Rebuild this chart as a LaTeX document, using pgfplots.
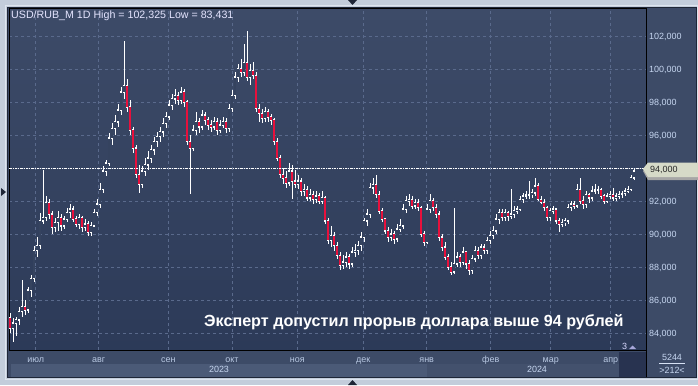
\documentclass[border=0pt]{standalone}
\usepackage{fontspec}
\setmainfont{Liberation Sans}
\usepackage{pgfplots}
\pgfplotsset{compat=1.18}
\usepackage{pgfplotstable}
\definecolor{framec}{HTML}{C3CDDB}
\definecolor{framelight}{HTML}{DDE4EE}
\definecolor{paneldark}{HTML}{1E2637}
\definecolor{panelbg}{HTML}{3D4B67}
\definecolor{plottop}{HTML}{3D4B68}
\definecolor{plotbot}{HTML}{2C3A58}
\definecolor{plotmid}{HTML}{35435F}
\definecolor{gridc}{HTML}{5A6A8C}
\definecolor{labc}{HTML}{C6D6F0}
\definecolor{monc}{HTML}{B8C8E2}
\definecolor{yearA}{HTML}{4B5A77}
\definecolor{yearB}{HTML}{43516D}
\definecolor{darkrect}{HTML}{283350}
\definecolor{tagc}{HTML}{D6DAC8}
\definecolor{candlered}{HTML}{E8103C}
\pgfplotstableread{
x o h l c
10 84.9 85.2 84.0 84.3
13 84.3 84.9 83.431 84.6
16 84.6 85.0 83.8 84.8
19 84.8 85.6 84.5 85.3
22 85.3 87.2 85.0 85.6
25 85.6 86.0 85.1 85.4
28 85.4 86.8 85.2 86.6
31 86.6 87.5 86.2 87.3
34 87.3 89.3 87.1 89.0
37 89.0 89.8 88.6 89.3
40 89.3 91.3 89.1 90.8
43 90.8 93.9 90.6 91.0
46 91.0 92.3 90.8 91.9
49 91.9 92.1 90.9 91.2
52 91.2 91.4 90.0 90.4
55 90.4 91.0 90.1 90.7
58 90.7 91.4 90.2 91.0
61 91.0 91.2 90.2 90.5
64 90.5 91.1 90.3 90.9
67 90.9 91.6 90.7 91.3
70 91.3 91.8 91.0 91.5
73 91.5 91.7 90.7 90.9
76 90.9 91.1 90.4 90.6
79 90.6 91.2 90.3 91.0
82 91.0 91.1 90.1 90.4
85 90.4 90.9 90.2 90.6
88 90.6 90.8 89.9 90.1
91 90.1 90.7 89.9 90.5
94 90.5 91.5 90.4 91.3
97 91.3 92.1 91.1 91.8
100 91.8 93.1 91.6 92.7
103 92.7 94.1 92.5 93.8
106 93.8 94.5 93.5 94.3
109 94.3 96.1 94.1 95.8
112 95.8 96.7 95.4 96.4
115 96.4 97.2 96.0 96.8
118 96.8 97.9 96.5 97.5
121 97.5 98.9 97.2 98.6
124 98.6 101.7 98.2 99.0
127 99.0 99.4 97.4 97.7
130 97.7 98.1 96.0 96.3
133 96.3 96.5 94.9 95.2
136 95.2 95.4 93.4 93.6
139 93.6 94.2 92.5 93.0
142 93.0 94.1 92.8 93.8
145 93.8 94.6 93.5 94.2
148 94.2 95.0 93.9 94.6
151 94.6 95.4 94.3 95.1
154 95.1 95.9 94.8 95.6
157 95.6 96.2 95.3 95.9
160 95.9 96.5 95.6 96.2
163 96.2 97.0 95.9 96.7
166 96.7 97.4 96.4 97.1
169 97.1 98.1 96.9 97.8
172 97.8 98.5 97.5 98.2
175 98.2 98.8 97.9 98.4
178 98.4 98.6 97.8 98.1
181 98.1 98.9 97.9 98.6
184 98.6 98.8 97.7 98.0
187 98.0 98.1 95.4 95.6
190 95.6 96.0 92.4 95.2
193 95.2 96.6 95.0 96.3
196 96.3 97.4 96.0 96.8
199 96.8 97.0 96.1 96.5
202 96.5 97.5 96.3 97.2
205 97.2 97.4 96.6 96.9
208 96.9 97.1 96.3 96.6
211 96.6 96.9 96.2 96.5
214 96.5 97.1 96.3 96.8
217 96.8 97.0 96.0 96.3
220 96.3 96.9 96.1 96.6
223 96.6 97.1 96.4 96.8
226 96.8 97.0 96.1 96.4
229 96.4 97.9 96.2 97.6
232 97.6 98.7 97.4 98.4
235 98.4 99.8 98.2 99.5
238 99.5 100.3 99.2 100.0
241 100.0 100.6 99.5 99.8
244 99.8 101.5 99.6 100.4
247 100.4 102.325 99.3 99.5
250 99.5 100.3 99.0 99.9
253 99.9 100.4 99.4 99.6
256 99.6 99.8 97.4 97.6
259 97.6 97.9 96.8 97.3
262 97.3 97.6 96.7 97.0
265 97.0 97.7 96.8 97.4
268 97.4 97.6 96.8 97.1
271 97.1 97.3 96.6 96.9
274 96.9 97.0 95.4 95.6
277 95.6 95.8 94.4 94.6
280 94.6 94.8 93.4 93.6
283 93.6 94.0 93.0 93.4
286 93.4 93.8 92.8 93.1
289 93.1 94.3 92.9 93.8
292 93.8 94.2 92.1 93.2
295 93.2 93.9 92.8 93.0
298 93.0 93.6 92.7 93.2
301 93.2 93.4 92.3 92.6
304 92.6 93.0 92.3 92.7
307 92.7 92.9 92.0 92.2
310 92.2 92.7 92.0 92.4
313 92.4 92.6 91.8 92.1
316 92.1 92.6 91.9 92.3
319 92.3 92.5 91.8 92.0
322 92.0 92.6 91.8 92.2
325 92.2 92.3 90.6 90.8
328 90.8 91.0 89.4 89.6
331 89.6 90.5 89.2 89.9
334 89.9 90.1 89.0 89.3
337 89.3 89.5 88.5 88.7
340 88.7 88.9 87.8 88.1
343 88.1 88.7 87.9 88.3
346 88.3 88.9 88.0 88.6
349 88.6 88.8 87.9 88.2
352 88.2 89.2 88.0 88.9
355 88.9 89.4 88.6 89.0
358 89.0 89.6 88.7 89.3
361 89.3 90.1 89.0 89.8
364 89.8 91.0 89.5 90.8
367 90.8 91.5 90.5 91.2
370 91.2 93.1 91.0 92.8
373 92.8 93.4 92.4 93.0
376 93.0 93.6 92.2 92.4
379 92.4 92.6 91.2 91.4
382 91.4 91.6 90.7 90.9
385 90.9 91.0 90.0 90.2
388 90.2 90.4 89.5 89.8
391 89.8 90.3 89.6 90.0
394 90.0 90.2 89.4 89.7
397 89.7 90.6 89.5 90.3
400 90.3 90.9 90.1 90.5
403 90.5 91.8 90.3 91.5
406 91.5 92.3 91.3 92.0
409 92.0 92.4 91.7 92.1
412 92.1 92.3 91.5 91.7
415 91.7 92.1 91.5 91.9
418 91.9 92.1 91.4 91.6
421 91.6 91.7 89.8 90.0
424 90.0 90.2 89.3 89.5
427 89.5 91.8 89.4 91.5
430 91.5 92.4 91.3 92.0
433 92.0 92.2 91.4 91.6
436 91.6 91.8 91.0 91.2
439 91.2 91.4 89.6 89.8
442 89.8 90.0 89.0 89.2
445 89.2 89.5 88.4 88.6
448 88.6 88.8 87.8 88.0
451 88.0 88.3 87.5 87.7
454 87.7 91.6 87.6 88.2
457 88.2 88.9 88.0 88.6
460 88.6 88.8 88.0 88.3
463 88.3 89.2 88.1 88.9
466 88.9 89.0 87.9 88.2
469 88.2 88.4 87.5 87.8
472 87.8 88.7 87.6 88.5
475 88.5 89.3 88.3 89.0
478 89.0 89.2 88.5 88.7
481 88.7 89.4 88.5 89.2
484 89.2 89.4 88.8 89.0
487 89.0 89.8 88.8 89.6
490 89.6 90.2 89.4 89.9
493 89.9 90.5 89.7 90.2
496 90.2 91.2 90.0 90.9
499 90.9 91.5 90.6 91.3
502 91.3 91.5 90.8 91.0
505 91.0 91.5 90.8 91.3
508 91.3 91.4 90.8 91.1
511 91.1 92.7 90.9 91.2
514 91.2 91.7 91.0 91.4
517 91.4 91.7 91.2 91.5
520 91.5 92.3 91.4 92.1
523 92.1 92.5 91.9 92.3
526 92.3 92.6 92.1 92.35
529 92.35 93.2 92.1 92.4
532 92.4 92.7 92.2 92.5
535 92.5 93.4 92.3 92.9
538 92.9 93.1 92.0 92.1
541 92.1 92.3 91.8 91.9
544 91.9 92.1 91.4 91.6
547 91.6 91.7 90.8 91.0
550 91.0 91.6 90.8 91.4
553 91.4 91.7 91.2 91.5
556 91.5 91.6 90.6 90.8
559 90.8 91.0 90.1 90.6
562 90.6 90.9 90.4 90.7
565 90.7 91.0 90.5 90.8
568 90.8 91.8 90.6 91.6
571 91.6 92.0 91.4 91.8
574 91.8 92.0 91.5 91.7
577 91.7 93.0 91.6 92.7
580 92.7 93.4 91.8 92.0
583 92.0 92.3 91.5 91.8
586 91.8 92.6 91.6 92.4
589 92.4 92.5 91.9 92.2
592 92.2 92.9 92.0 92.6
595 92.6 93.0 92.4 92.65
598 92.65 92.9 92.4 92.7
601 92.7 92.8 92.1 92.3
604 92.3 92.4 91.8 92.0
607 92.0 92.5 91.9 92.3
610 92.3 92.6 92.1 92.4
613 92.4 92.8 92.0 92.2
616 92.2 92.5 92.0 92.3
619 92.3 92.6 92.1 92.4
622 92.4 92.6 92.2 92.45
625 92.45 92.8 92.3 92.6
628 92.6 92.9 92.5 92.7
631 92.7 93.6 92.6 93.4
634 93.4 94.0 93.3 93.8
}\candles
\begin{document}
\begin{tikzpicture}[x=1bp,y=1bp]
\useasboundingbox (0,0) rectangle (698,385);
% outer frame
\fill[framec] (0,0) rectangle (698,385);
\draw[framelight, line width=1bp] (5.5,5.5) rectangle (697.5,379.5);
\fill[paneldark] (7,7) rectangle (697,378);
\fill[panelbg] (8,8) rectangle (696,377);
% year row
\fill[yearA] (11,8) rectangle (427,21);
\fill[yearB] (427,8) rectangle (619,21);
\fill[darkrect] (619,8) rectangle (646,33);
% arrows on the frame
\fill[paneldark] (348,385) -- (357,385) -- (352.5,380) -- cycle;
\fill[paneldark] (348,0) -- (357,0) -- (352.5,5) -- cycle;
\fill[paneldark] (1,189) -- (1,197) -- (6,193) -- cycle;
\begin{axis}[
  at={(9bp,35bp)}, anchor=south west, scale only axis,
  width=637bp, height=341bp,
  xmin=9, xmax=646, ymin=82.97, ymax=103.636,
  axis background/.style={top color=plottop, bottom color=plotbot},
  axis line style={black, line width=1bp},
  xtick={35.7,98.7,168.3,232,297.3,363.3,426.7,490.7,550.7,610.7},
  xticklabels={июл,авг,сен,окт,ноя,дек,янв,фев,мар,апр},
  ytick={84,86,88,90,92,94,96,98,100,102},
  yticklabels={{84,000},{86,000},{88,000},{90,000},{92,000},{},{96,000},{98,000},{100,000},{102,000}},
  yticklabel pos=right,
  major tick length=0pt,
  grid=major,
  major grid style={draw=gridc, line width=0.6bp, dash pattern=on 3bp off 3bp},
  tick label style={font=\fontsize{9}{10}\selectfont, inner sep=0pt},
  xticklabel style={anchor=base, yshift=-12bp, text=monc},
  yticklabel style={anchor=base west, xshift=3bp, yshift=-3.2bp, text=labc},
  clip=true,
]
% wicks
\addplot[draw=none, mark=none, forget plot,
  error bars/.cd, y dir=both, y explicit, error mark=none,
  error bar style={draw=white, line width=0.9bp}]
  table[x=x, y=o, y error plus expr={\thisrow{h}-\thisrow{o}}, y error minus expr={\thisrow{o}-\thisrow{l}}] {\candles};
% bodies (white outline)
\addplot[draw=none, mark=none, forget plot,
  error bars/.cd, y dir=both, y explicit, error mark=none,
  error bar style={draw=white, line width=2.7bp}]
  table[x=x, y expr={(\thisrow{o}+\thisrow{c})/2}, y error expr={abs(\thisrow{o}-\thisrow{c})/2+0.05}] {\candles};
% falling candles: red inside
\addplot[draw=none, mark=none, forget plot,
  error bars/.cd, y dir=both, y explicit, error mark=none,
  error bar style={draw=candlered, line width=1.2bp}]
  table[x=x, y expr={(\thisrow{o}+\thisrow{c})/2}, y error expr={max((\thisrow{o}-\thisrow{c})/2-0.02,0)}] {\candles};
% rising candles: hollow
\addplot[draw=none, mark=none, forget plot,
  error bars/.cd, y dir=both, y explicit, error mark=none,
  error bar style={draw=plotmid, line width=1.1bp}]
  table[x=x, y expr={(\thisrow{o}+\thisrow{c})/2}, y error expr={max((\thisrow{c}-\thisrow{o})/2-0.03,0)}] {\candles};
\draw[white, line width=0.8bp, dash pattern=on 2.5bp off 1bp on 1bp off 1bp] (axis cs:9,94) -- (axis cs:646,94);
\end{axis}
% price tag at 94
\fill[gray!70] (643,214) -- (648,221) -- (698,221) -- (698,205) -- (648,205) -- cycle;
\fill[tagc] (643,216) -- (648,222.5) -- (698,222.5) -- (698,208) -- (648,208) -- cycle;
\node[anchor=base west, inner sep=0pt, font=\fontsize{9}{10}\selectfont, text=black!85] at (650,212.2) {94,000};
% title
\node[anchor=base west, inner sep=0pt, font=\fontsize{10.7}{12}\selectfont, text=white!90!blue] at (11,366.7) {USD/RUB\_M 1D High = 102,325 Low = 83,431};
% caption
\node[anchor=base west, inner sep=0pt, font=\bfseries\fontsize{16.2}{18}\selectfont, text=white] at (204,59) {Эксперт допустил прорыв доллара выше 94 рублей};
% years
\node[anchor=base, inner sep=0pt, font=\fontsize{9}{10}\selectfont, text=labc] at (219,12.3) {2023};
\node[anchor=base, inner sep=0pt, font=\fontsize{9}{10}\selectfont, text=labc] at (537,12.3) {2024};
% small marker
\node[anchor=base, inner sep=0pt, font=\fontsize{9}{10}\selectfont, text=white!85!blue] at (624.5,36) {3};
\fill[gray!60!blue!50] (629,36) -- (636,36) -- (632.5,39.5) -- cycle;
% bottom right box
\draw[black, line width=1bp] (646,8) -- (646,34);
\node[anchor=base, inner sep=0pt, font=\fontsize{9}{10}\selectfont, text=labc] at (672,25) {5244};
\draw[labc!70, line width=0.8bp] (659,21.7) -- (685,21.7);
\node[anchor=base, inner sep=0pt, font=\fontsize{9}{10}\selectfont, text=labc] at (672,11.7) {>212<};
\end{tikzpicture}
\end{document}
